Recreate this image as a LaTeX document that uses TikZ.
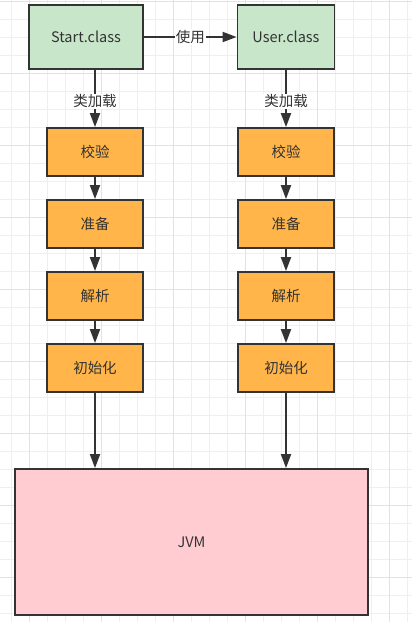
\documentclass[tikz,border=0pt]{standalone}
\usepackage{fontspec}
\usepackage{tikz}
\usetikzlibrary{arrows.meta,positioning,calc}
\newfontfamily\cjkfont{Noto Sans CJK SC}
\definecolor{ink}{HTML}{333333}
\definecolor{classgreen}{HTML}{C8E6C9}
\definecolor{steporange}{HTML}{FFB54A}
\definecolor{jvmpink}{HTML}{FFCCD2}
\definecolor{gridlo}{HTML}{EFEFEF}
\definecolor{gridhi}{HTML}{E2E2E2}
\tikzset{
  base/.style={draw=ink, line width=1.8pt, text=ink, align=center, inner sep=2pt,
               font=\cjkfont\fontsize{14.5}{17}\selectfont},
  classbox/.style={base, fill=classgreen, minimum height=64pt},
  stepbox/.style={base, fill=steporange, minimum width=96pt, minimum height=48pt},
  jvmbox/.style={base, fill=jvmpink, minimum width=353pt, minimum height=146pt},
  flow/.style={-{Triangle[length=14pt, width=10pt]}, line width=1.8pt, ink},
  lbl/.style={fill=white, inner sep=1pt, text=ink, font=\cjkfont\fontsize{14.5}{17}\selectfont},
}
\begin{document}
\begin{tikzpicture}[x=1pt, y=-1pt]
    % page and grid paper
    \useasboundingbox (0,0) rectangle (412,622);
    \fill[white] (0,0) rectangle (412,622);
    \foreach \k in {0,...,22} \draw[gridlo, line width=0.8pt] ({11.5+18*\k},0) -- ({11.5+18*\k},622);
    \foreach \k in {0,...,34} \draw[gridlo, line width=0.8pt] (0,{1.5+18*\k}) -- (412,{1.5+18*\k});
    \foreach \k in {0,...,5} \draw[gridhi, line width=1pt] ({29.5+72*\k},0) -- ({29.5+72*\k},622);
    \foreach \k in {0,...,8} \draw[gridhi, line width=1pt] (0,{1.5+72*\k}) -- (412,{1.5+72*\k});

    % class files
    \node[classbox, minimum width=114pt] (start) at (86,37) {Start.class};
    \node[classbox, minimum width=97pt] (user) at (286,37) {User.class};

    % loading steps, one column per class
    \foreach \t [count=\i] in {校验,准备,解析,初始化}
      { \node[stepbox] (ls\i) at (95,{80+72*\i}) {\t};
        \node[stepbox] (rs\i) at (286,{80+72*\i}) {\t}; }

    \node[jvmbox] (jvm) at (191.5,542) {JVM};

    % connectors
    \draw[flow] (start.east) -- node[lbl] {使用} (user.west);
    \draw[flow] (start.south -| ls1) -- node[lbl, pos=0.55] {类加载} (ls1);
    \draw[flow] (user) -- node[lbl, pos=0.55] {类加载} (rs1);
    \foreach \i/\j in {1/2, 2/3, 3/4}
      { \draw[flow] (ls\i) -- (ls\j);
        \draw[flow] (rs\i) -- (rs\j); }
    \draw[flow] (ls4) -- (ls4 |- jvm.north);
    \draw[flow] (rs4) -- (rs4 |- jvm.north);
  \end{tikzpicture}
\end{document}
